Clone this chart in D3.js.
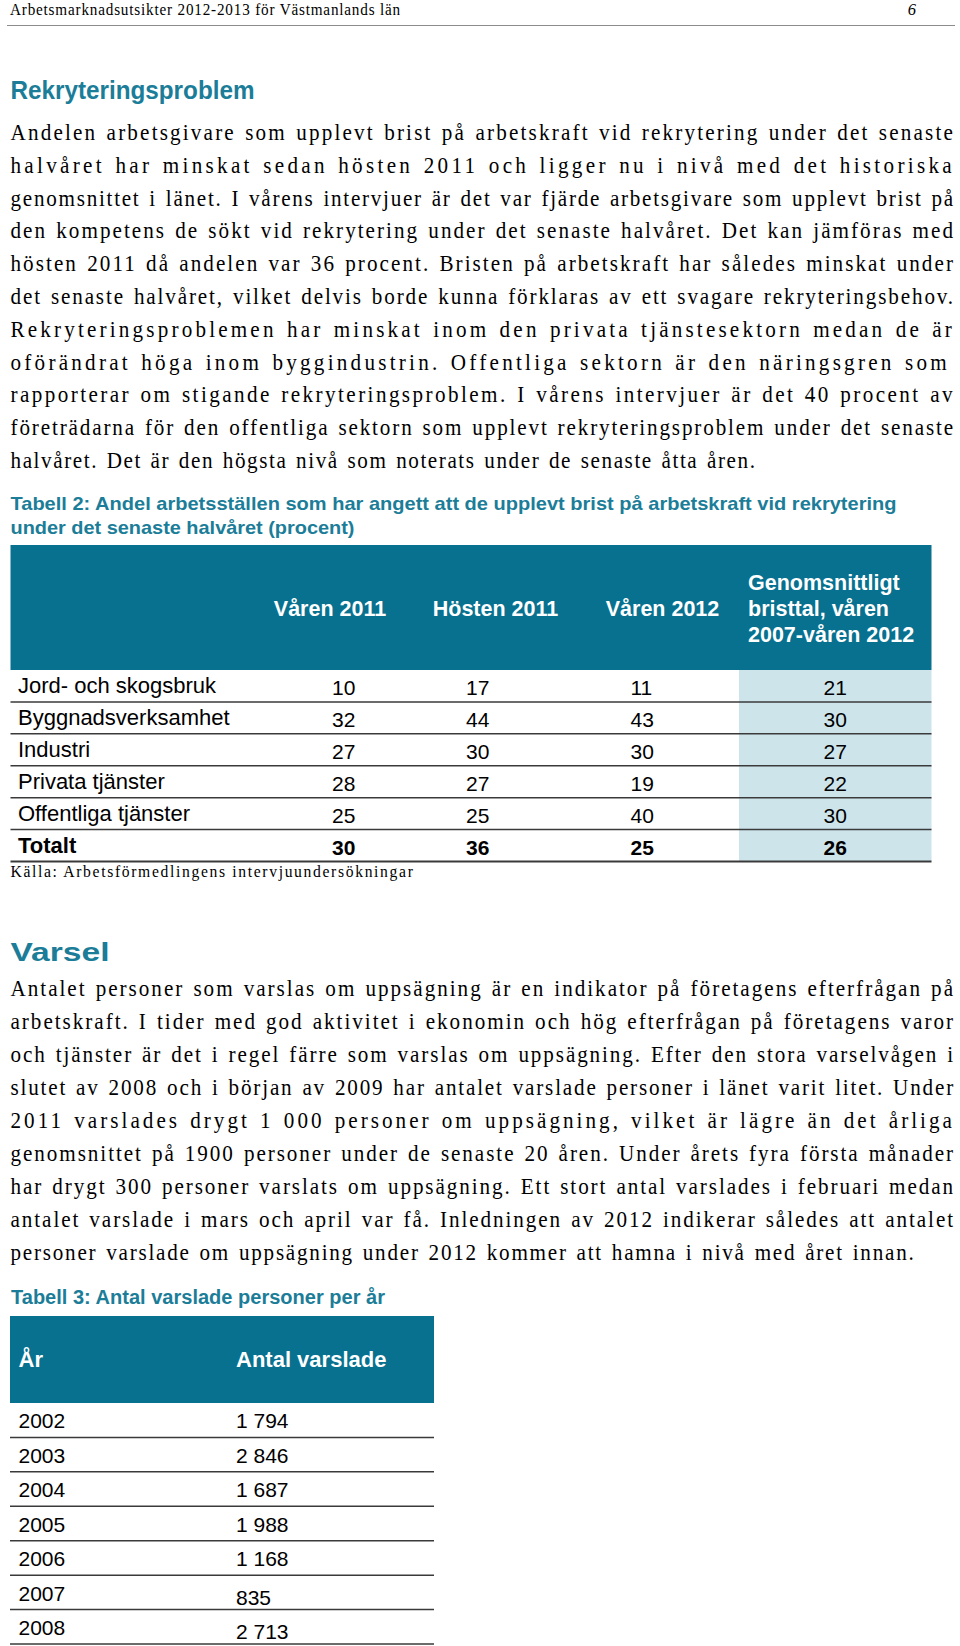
<!DOCTYPE html>
<html>
<head>
<meta charset="utf-8">
<script src="https://cdn.jsdelivr.net/npm/d3@7"></script>
<style>
  body { margin: 0; background: #fff; }
</style>
</head>
<body>
<div class="page-div"></div>
<script>
//--------------------------- Data

var pageTitle = "Arbetsmarknadsutsikter 2012-2013 för Västmanlands län";
var pageNumber = "6";

var heading1 = "Rekryteringsproblem";
var para1 = [
  "Andelen arbetsgivare som upplevt brist på arbetskraft vid rekrytering under det senaste",
  "halvåret har minskat sedan hösten 2011 och ligger nu i nivå med det historiska",
  "genomsnittet i länet. I vårens intervjuer är det var fjärde arbetsgivare som upplevt brist på",
  "den kompetens de sökt vid rekrytering under det senaste halvåret. Det kan jämföras med",
  "hösten 2011 då andelen var 36 procent. Bristen på arbetskraft har således minskat under",
  "det senaste halvåret, vilket delvis borde kunna förklaras av ett svagare rekryteringsbehov.",
  "Rekryteringsproblemen har minskat inom den privata tjänstesektorn medan de är",
  "oförändrat höga inom byggindustrin.  Offentliga sektorn är den näringsgren som",
  "rapporterar om stigande rekryteringsproblem. I vårens intervjuer är det 40 procent av",
  "företrädarna för den offentliga sektorn som upplevt rekryteringsproblem under det senaste",
  "halvåret. Det är den högsta nivå som noterats under de senaste åtta åren."
];

var table2Caption = [
  "Tabell 2: Andel arbetsställen som har angett att de upplevt brist på arbetskraft vid rekrytering",
  "under det senaste halvåret (procent)"
];
var table2Periods = ["Våren 2011", "Hösten 2011", "Våren 2012"];
var table2AvgHeader = ["Genomsnittligt", "bristtal, våren", "2007-våren 2012"];
var sectors = ["Jord- och skogsbruk", "Byggnadsverksamhet", "Industri", "Privata tjänster", "Offentliga tjänster", "Totalt"];
var varen2011 = [10, 32, 27, 28, 25, 30];
var hosten2011 = [17, 44, 30, 27, 25, 36];
var varen2012 = [11, 43, 30, 19, 40, 25];
var snitt2007_2012 = [21, 30, 27, 22, 30, 26];
var sourceNote = "Källa: Arbetsförmedlingens intervjuundersökningar";

var heading2 = "Varsel";
var para2 = [
  "Antalet personer som varslas om uppsägning är en indikator på företagens efterfrågan på",
  "arbetskraft. I tider med god aktivitet i ekonomin och hög efterfrågan på företagens varor",
  "och tjänster är det i regel färre som varslas om uppsägning. Efter den stora varselvågen i",
  "slutet av 2008 och i början av 2009 har antalet varslade personer i länet varit litet. Under",
  "2011 varslades drygt 1 000 personer om uppsägning, vilket är lägre än det årliga",
  "genomsnittet på 1900 personer under de senaste 20 åren. Under årets fyra första månader",
  "har drygt 300 personer varslats om uppsägning. Ett stort antal varslades i februari medan",
  "antalet varslade i mars och april var få. Inledningen av 2012 indikerar således att antalet",
  "personer varslade om uppsägning under 2012 kommer att hamna i nivå med året innan."
];

var table3Caption = "Tabell 3: Antal varslade personer per år";
var table3Header = ["År", "Antal varslade"];
var years = ["2002", "2003", "2004", "2005", "2006", "2007", "2008"];
var varslade = [1794, 2846, 1687, 1988, 1168, 835, 2713];

//--------------------------- Constants

var width = 960;
var height = 1646;
var left = 10.5;
var right = 955;
var teal = "#07718f";
var tealText = "#1b7d98";
var lightBlue = "#cde4eb";
var serif = "'Liberation Serif', 'Times New Roman', serif";
var sans = "'Liberation Sans Narrow', 'Liberation Sans', Arial, sans-serif";
var sansWide = "'Liberation Sans', Arial, sans-serif";
var squeeze = 0.92;   // the page's serif type is slightly condensed

var sv = d3.formatLocale({ decimal: ",", thousands: " ", grouping: [3], currency: ["", " kr"] });
var fmt = sv.format(",d");

//--------------------------- SVG definition

var svg = d3.select("div.page-div")
    .append("svg")
    .attr("width", width)
    .attr("height", height)
    .style("display", "block");

function addText(g, x, y, s, size, family, opts) {
    opts = opts || {};
    var t = g.append("text")
        .attr("x", x)
        .attr("y", y)
        .attr("font-family", family)
        .attr("font-size", size)
        .attr("font-weight", opts.weight || "normal")
        .attr("font-style", opts.style || "normal")
        .attr("text-anchor", opts.anchor || "start")
        .style("fill", opts.fill || "#000")
        .text(s);
    if (opts.len) t.attr("textLength", opts.len).attr("lengthAdjust", opts.adjust || "spacing");
    return t;
}

// condensed serif line stretched to a target width:
// a small fixed extra word space, the rest spread between the letters
function serifLine(g, x, y, s, size, target, wordExtra) {
    var t = g.append("text")
        .attr("transform", "translate(" + x + "," + y + ") scale(" + squeeze + ",1)")
        .attr("font-family", serif)
        .attr("font-size", size)
        .style("fill", "#000")
        .text(s);
    var natural = t.node().getComputedTextLength();
    var gaps = (s.match(/ /g) || []).length;
    var ws = wordExtra || 0;
    var ls = (target / squeeze - natural - gaps * ws) / s.length;
    t.style("letter-spacing", ls + "px").style("word-spacing", ws + "px");
    return t;
}

//--------------------------- Page header

var header = svg.append("g");
serifLine(header, 10, 15, pageTitle, 16.5, 391, 0);
addText(header, 916, 15, pageNumber, 16.5, serif, { style: "italic", anchor: "end" });
header.append("line")
    .attr("x1", 7).attr("x2", 955)
    .attr("y1", 25.5).attr("y2", 25.5)
    .attr("stroke", "#8c8c8c")
    .attr("stroke-width", 1);

//--------------------------- Section 1

var sec1 = svg.append("g");
addText(sec1, left, 99, heading1, 25, sans, { weight: "bold", fill: tealText, len: 244, adjust: "spacingAndGlyphs" });

var y1 = d3.scaleLinear().domain([0, para1.length - 1]).range([140, 468]);
para1.forEach(function (s, i) {
    var last = i == para1.length - 1;
    serifLine(sec1, left, y1(i), s, 23, last ? 746 : right - left, 2);
});

//--------------------------- Table 2

var t2 = svg.append("g");
table2Caption.forEach(function (s, i) {
    addText(t2, left, 510 + i * 24, s, 19, sans, { weight: "bold", fill: tealText, len: i == 0 ? 886 : 344, adjust: "spacingAndGlyphs" });
});

var t2Left = 10.5, t2Right = 931.5, t2Top = 545, t2HeadBottom = 670, t2Bottom = 861.5;

t2.append("rect")
    .attr("x", t2Left).attr("y", t2Top)
    .attr("width", t2Right - t2Left).attr("height", t2HeadBottom - t2Top)
    .attr("fill", teal);

var rowY = d3.scaleBand().domain(sectors).range([t2HeadBottom, t2Bottom]);

// column positions for the number columns
var colX = d3.scaleOrdinal()
    .domain(["v11", "h11", "v12", "avg"])
    .range([332, 466, 630.5, 823.5]);
var headX = d3.scaleOrdinal()
    .domain(["v11", "h11", "v12"])
    .range([330, 495.5, 662.5]);

// light column for the average
t2.append("rect")
    .attr("x", 739).attr("y", t2HeadBottom)
    .attr("width", t2Right - 739).attr("height", t2Bottom - t2HeadBottom)
    .attr("fill", lightBlue);

["v11", "h11", "v12"].forEach(function (k, i) {
    addText(t2, headX(k), 616, table2Periods[i], 21.5, sansWide, { weight: "bold", fill: "#fff", anchor: "middle" });
});
table2AvgHeader.forEach(function (s, i) {
    addText(t2, 748, 590 + i * 26, s, 21.5, sansWide, { weight: "bold", fill: "#fff" });
});

var cols = [["v11", varen2011], ["h11", hosten2011], ["v12", varen2012], ["avg", snitt2007_2012]];

t2.selectAll("text.label").data(sectors).enter()
    .append("text")
    .attr("class", "label")
    .attr("x", 18)
    .attr("y", function (d) { return rowY(d) + rowY.bandwidth() - 9; })
    .attr("font-family", sansWide)
    .attr("font-size", 22)
    .attr("font-weight", function (d, i) { return i == sectors.length - 1 ? "bold" : "normal"; })
    .style("fill", "#000")
    .text(function (d) { return d; });

cols.forEach(function (c) {
    t2.selectAll("text.num-" + c[0]).data(c[1]).enter()
        .append("text")
        .attr("class", "num-" + c[0])
        .attr("x", colX(c[0]))
        .attr("y", function (d, i) { return rowY(sectors[i]) + rowY.bandwidth() - 6.5; })
        .attr("font-family", sansWide)
        .attr("font-size", 21)
        .attr("font-weight", function (d, i) { return i == sectors.length - 1 ? "bold" : "normal"; })
        .style("fill", "#000")
        .text(function (d) { return d; });
});

t2.selectAll("line.row").data(sectors).enter()
    .append("line")
    .attr("class", "row")
    .attr("x1", t2Left).attr("x2", t2Right)
    .attr("y1", function (d) { return rowY(d) + rowY.bandwidth(); })
    .attr("y2", function (d) { return rowY(d) + rowY.bandwidth(); })
    .attr("stroke", "#3a3a3a")
    .attr("stroke-width", function (d, i) { return i == sectors.length - 1 ? 2 : 1.5; });

serifLine(t2, left, 877, sourceNote, 17, 404, 0);

//--------------------------- Section 2

var sec2 = svg.append("g");
addText(sec2, left, 961, heading2, 25, sans, { weight: "bold", fill: tealText, len: 99, adjust: "spacingAndGlyphs" });

var y2 = d3.scaleLinear().domain([0, para2.length - 1]).range([996, 1260]);
para2.forEach(function (s, i) {
    var last = i == para2.length - 1;
    serifLine(sec2, left, y2(i), s, 23, last ? 905 : right - left, 2);
});

//--------------------------- Table 3

var t3 = svg.append("g");
addText(t3, 11, 1304, table3Caption, 20, sansWide, { weight: "bold", fill: tealText, len: 374, adjust: "spacingAndGlyphs" });

var t3Left = 10, t3Right = 434, t3Top = 1316, t3HeadBottom = 1403, t3Bottom = 1644;

t3.append("rect")
    .attr("x", t3Left).attr("y", t3Top)
    .attr("width", t3Right - t3Left).attr("height", t3HeadBottom - t3Top)
    .attr("fill", teal);

addText(t3, 18.5, 1367, table3Header[0], 22, sansWide, { weight: "bold", fill: "#fff" });
addText(t3, 236, 1367, table3Header[1], 22, sansWide, { weight: "bold", fill: "#fff" });

var yearY = d3.scaleBand().domain(years).range([t3HeadBottom, t3Bottom]);

t3.selectAll("text.year").data(years).enter()
    .append("text")
    .attr("class", "year")
    .attr("x", 18.5)
    .attr("y", function (d) { return yearY(d) + yearY.bandwidth() - 9; })
    .attr("font-family", sansWide)
    .attr("font-size", 21)
    .style("fill", "#000")
    .text(function (d) { return d; });

t3.selectAll("text.count").data(varslade).enter()
    .append("text")
    .attr("class", "count")
    .attr("x", 236)
    .attr("y", function (d, i) { return yearY(years[i]) + yearY.bandwidth() - (i >= 5 ? 5 : 9); })
    .attr("font-family", sansWide)
    .attr("font-size", 21)
    .style("fill", "#000")
    .text(function (d) { return fmt(d); });

t3.selectAll("line.row").data(years).enter()
    .append("line")
    .attr("class", "row")
    .attr("x1", t3Left).attr("x2", t3Right)
    .attr("y1", function (d) { return yearY(d) + yearY.bandwidth(); })
    .attr("y2", function (d) { return yearY(d) + yearY.bandwidth(); })
    .attr("stroke", "#3a3a3a")
    .attr("stroke-width", 1.5);
</script>
</body>
</html>
